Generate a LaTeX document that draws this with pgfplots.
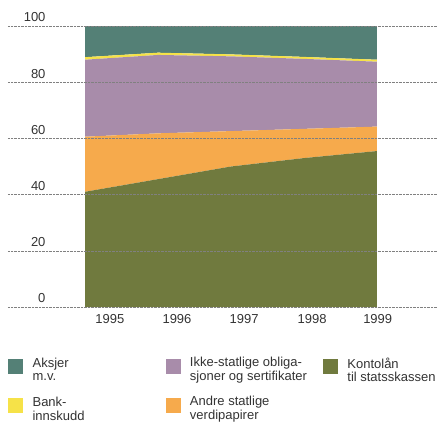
\documentclass[border=0pt]{standalone}
\usepackage{fontspec}
\setmainfont{Liberation Sans}
\usepackage{pgfplots}
\pgfplotsset{compat=1.18}
\definecolor{cteal}{RGB}{84,128,118}
\definecolor{cpurple}{RGB}{168,140,170}
\definecolor{corange}{RGB}{246,170,76}
\definecolor{colive}{RGB}{112,122,62}
\definecolor{cyellow}{RGB}{246,226,72}
\begin{document}
\begin{tikzpicture}
\begin{axis}[
  scale only axis, width=429pt, height=281pt,
  xmin=-1.055, xmax=4.822, ymin=0, ymax=100,
  axis line style={draw=none},
  major tick length=0pt,
  stack plots=y, area style,
  ytick={0,20,40,60,80,100},
  yticklabels={0,20,40,60,80,100},
  ymajorgrids, major grid style={densely dotted, black!50, line width=0.5pt},
  yticklabel style={anchor=south east, xshift=41pt, yshift=0.5pt, font=\fontsize{13}{15}\selectfont, text=black!80},
  xtick={0.34,1.26,2.18,3.11,4.01},
  xticklabels={1995,1996,1997,1998,1999},
  xticklabel style={yshift=-4pt, font=\fontsize{13}{15}\selectfont, text=black!80},
  legend columns=3,
  legend style={at={(rel axis cs:0,0)}, anchor=north west, yshift=-50pt, draw=none, fill=none, inner sep=0pt,
    nodes={inner sep=0pt, font=\fontsize{13}{13.5}\selectfont, text=black!80},
    /tikz/every odd column/.style={column sep=10pt},
    row sep=22pt},
  legend cell align=left,
]
\coordinate (bl) at (rel axis cs:0,0);
\coordinate (tr) at (rel axis cs:1,1);
\addlegendimage{legend image code/.code={\fill[cteal] (0pt,-7pt) rectangle (14pt,7pt);}}
\addlegendimage{legend image code/.code={\fill[cpurple] (0pt,-7pt) rectangle (14pt,7pt);}}
\addlegendimage{legend image code/.code={\fill[colive] (0pt,-7pt) rectangle (14pt,7pt);}}
\addlegendimage{legend image code/.code={\fill[cyellow] (0pt,-7pt) rectangle (14pt,7pt);}}
\addlegendimage{legend image code/.code={\fill[corange] (0pt,-7pt) rectangle (14pt,7pt);}}
\legend{
  \parbox[c]{133pt}{Aksjer\\m.v.},
  \parbox[c]{133pt}{Ikke-statlige obliga-\\sjoner og sertifikater},
  \parbox[c]{100pt}{Kontolån\\til statsskassen},
  \parbox[c]{133pt}{Bank-\\innskudd},
  \parbox[c]{133pt}{Andre statlige\\verdipapirer}}
% Kontolån til statsskassen
\addplot[fill=colive, draw=none] coordinates {(0,41) (1,45.5) (2,50) (3,53) (4,55.5)} \closedcycle;
% Andre statlige verdipapirer
\addplot[fill=corange, draw=none] coordinates {(0,19.6) (1,16.3) (2,12.6) (3,10.4) (4,8.7)} \closedcycle;
% Ikke-statlige obligasjoner og sertifikater
\addplot[fill=cpurple, draw=none] coordinates {(0,27.4) (1,27.9) (2,26.6) (3,24.9) (4,23.1)} \closedcycle;
% Bankinnskudd
\addplot[fill=cyellow, draw=none] coordinates {(0,0.9) (1,0.8) (2,0.7) (3,0.7) (4,0.7)} \closedcycle;
% Aksjer m.v.
\addplot[fill=cteal, draw=none] coordinates {(0,11.1) (1,9.5) (2,10.1) (3,11.0) (4,12.0)} \closedcycle;
\end{axis}
\pgfresetboundingbox
\path ([xshift=-8pt,yshift=-117pt]bl) rectangle ([yshift=26pt]tr);
\end{tikzpicture}
\end{document}
